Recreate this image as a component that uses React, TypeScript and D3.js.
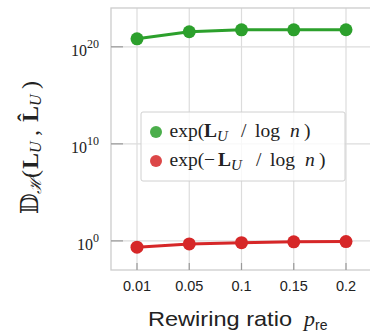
import React from "react";
import * as d3 from "d3";

const categories = ["0.01", "0.05", "0.1", "0.15", "0.2"];
const greenLog10 = [20.82, 21.55, 21.75, 21.75, 21.76];
const redLog10 = [-0.65, -0.31, -0.18, -0.1, -0.07];
const yTickExps = [0, 10, 20];
const legendLabels = ["exp(L_U / log n)", "exp(−L_U / log n)"];

const W = 370, H = 333;
const L = 111, R = 373, T = 8, B = 270;

export default function App() {
  const x = d3.scalePoint<string>().domain(categories).range([137, 346]);
  const y = d3.scaleLog().domain([1e-3, 1e24]).range([B, T]);
  const line = d3.line<number>()
    .x((_, i) => x(categories[i]) as number)
    .y((v) => y(Math.pow(10, v)));
  const series = [
    { vals: greenLog10, color: "#2ca02c" },
    { vals: redLog10, color: "#d62728" },
  ];
  const lserif = "'Liberation Serif', 'DejaVu Serif', serif";
  const sans = "'Liberation Sans', Arial, sans-serif";
  const legendItems = [
    { color: "#2ca02c", neg: false, cy: 132, pos: { L: 204, U: 217, sl: 241, log: 255, n: 290, cp: 304 } },
    { color: "#d62728", neg: true, cy: 161, pos: { L: 218, U: 231, sl: 256, log: 270, n: 305, cp: 319 } },
  ];
  return (
    <svg width={W} height={H} style={{ position: "absolute", left: 0, top: 0, background: "#fff" }}>
      <rect x={0} y={0} width={W} height={H} fill="#fff" />
      {/* grid */}
      {categories.map((c) => (
        <line key={c} x1={x(c)} x2={x(c)} y1={T} y2={B} stroke="#dcdcdc" strokeWidth={1.2} />
      ))}
      {yTickExps.map((e) => (
        <line key={e} x1={L} x2={R} y1={y(Math.pow(10, e))} y2={y(Math.pow(10, e))} stroke="#dcdcdc" strokeWidth={1.2} />
      ))}
      {/* spines */}
      <rect x={L} y={T} width={R - L} height={B - T} fill="none" stroke="#cccccc" strokeWidth={1.3} />
      {/* ticks */}
      {categories.map((c) => (
        <line key={c} x1={x(c)} x2={x(c)} y1={B} y2={B - 7} stroke="#999" strokeWidth={1.2} />
      ))}
      {yTickExps.map((e) => (
        <line key={e} x1={L} x2={L + 12} y1={y(Math.pow(10, e))} y2={y(Math.pow(10, e))} stroke="#999" strokeWidth={1.2} />
      ))}
      {/* series */}
      {series.map((s, si) => (
        <g key={si}>
          <path d={line(s.vals) || ""} fill="none" stroke={s.color} strokeWidth={3} />
          {s.vals.map((v, i) => (
            <circle key={i} cx={x(categories[i])} cy={y(Math.pow(10, v))} r={6.5} fill={s.color} />
          ))}
        </g>
      ))}
      {/* legend */}
      <rect x={141} y={112} width={204} height={69} rx={2} fill="#fff" fillOpacity={0.8} stroke="#d0d0d0" strokeWidth={1} />
      {legendItems.map((it, i) => (
        <g key={i} aria-label={legendLabels[i]}>
          <circle cx={156} cy={it.cy} r={6} fill={it.color} fillOpacity={0.85} />
          <text y={it.cy + 5} fontFamily={lserif} fontSize={19.5} fill="#222">
            <tspan x={169.5}>exp(</tspan>
            {it.neg ? <tspan x={204}>−</tspan> : null}
            <tspan x={it.pos.L} fontWeight="bold">L</tspan>
            <tspan x={it.pos.U} fontStyle="italic" fontSize={15} dy={4}>U</tspan>
            <tspan x={it.pos.sl} dy={-4}>/</tspan>
            <tspan x={it.pos.log}>log</tspan>
            <tspan x={it.pos.n} fontStyle="italic">n</tspan>
            <tspan x={it.pos.cp}>)</tspan>
          </text>
        </g>
      ))}
      {/* y tick labels */}
      {yTickExps.map((e) => (
        <text key={e} x={99} y={y(Math.pow(10, e)) + 9} textAnchor="end" fontFamily={lserif} fontSize={16} fill="#222">
          <tspan>10</tspan>
          <tspan fontSize={12} dy={-8}>{String(e)}</tspan>
        </text>
      ))}
      {/* x tick labels */}
      {categories.map((c) => (
        <text key={c} x={x(c)} y={291} textAnchor="middle" fontFamily={sans} fontSize={14.5} fill="#222">{c}</text>
      ))}
      {/* x label */}
      <text x={148} y={326} fontFamily={sans} fontSize={21} fill="#222" textLength={144} lengthAdjust="spacingAndGlyphs">Rewiring ratio</text>
      <text x={304} y={326} fill="#222">
        <tspan fontFamily={lserif} fontStyle="italic" fontSize={22}>p</tspan>
        <tspan fontFamily={sans} fontSize={14} dy={4}>re</tspan>
      </text>
      {/* y label */}
      <text transform="translate(38,214) rotate(-90)" fontFamily={lserif} fontSize={24} fill="#222">
        <tspan x={0}>𝔻</tspan>
        <tspan x={20} fontSize={16} dy={3} fontStyle="italic">ℋ</tspan>
        <tspan x={36} dy={-3}>(</tspan>
        <tspan x={45} fontWeight="bold">L</tspan>
        <tspan x={61} fontSize={16} dy={3} fontStyle="italic">U</tspan>
        <tspan x={78} dy={-3}>,</tspan>
        <tspan x={92} fontWeight="bold">L̂</tspan>
        <tspan x={108} fontSize={16} dy={3} fontStyle="italic">U</tspan>
        <tspan x={125} dy={-3}>)</tspan>
      </text>
    </svg>
  );
}
